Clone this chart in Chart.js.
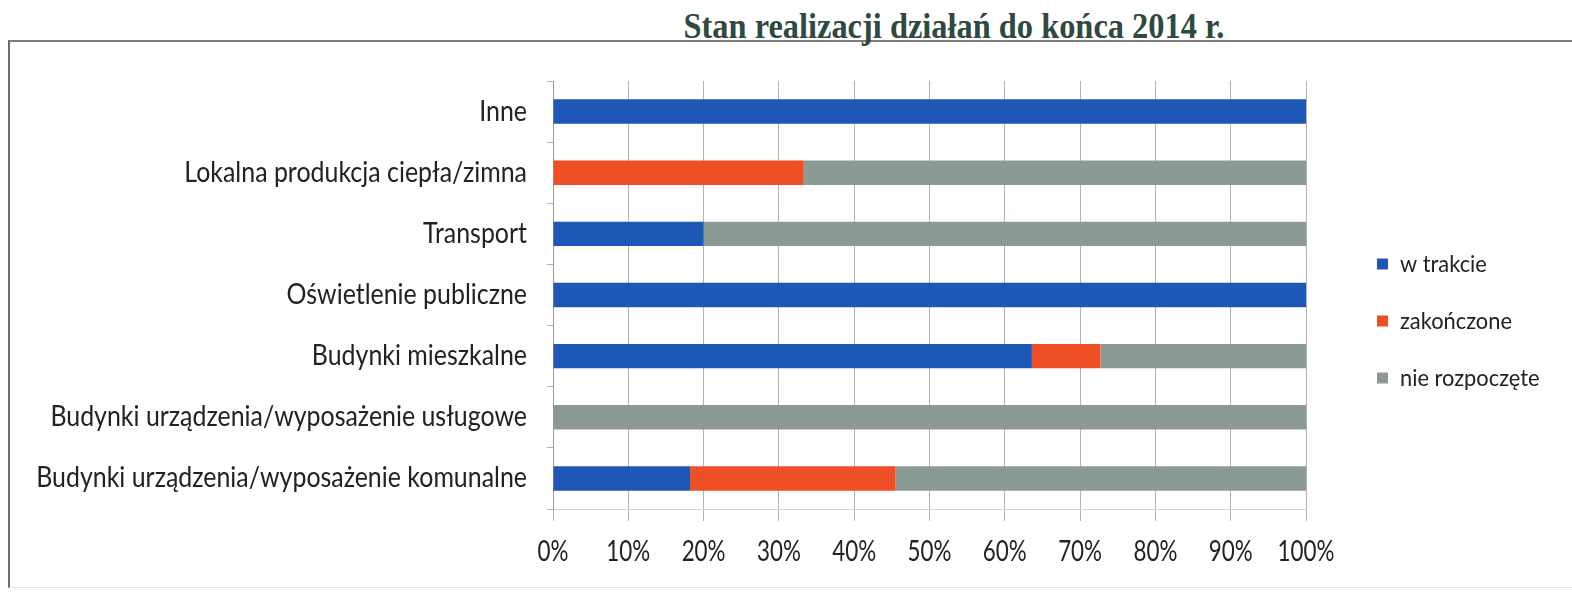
<!DOCTYPE html>
<html>
<head>
<meta charset="utf-8">
<script src="https://cdn.jsdelivr.net/npm/chart.js@4/dist/chart.umd.min.js"></script>
<style>
  html, body { margin: 0; padding: 0; background: #fff; }
  #wrap { position: relative; width: 1572px; height: 595px; overflow: hidden; }
  #frame { position: absolute; left: 8px; top: 40px; width: 1570px; height: 545px;
           border-top: 2px solid #7a7a7a; border-left: 2px solid #6e6e6e; border-bottom: 1px solid #e2e2e2; }
  #title { position: absolute; left: 954px; top: 8px; white-space: nowrap;
           font: bold 36px "Liberation Serif", "DejaVu Serif", serif; line-height: 36px;
           color: #2e4a40; transform: translateX(-50%) scaleX(0.9); transform-origin: center; }
  canvas { position: absolute; left: 0; top: 0; }
</style>
</head>
<body>
<div id="wrap">
  <div id="frame"></div>
  <div id="title">Stan realizacji działań do końca 2014 r.</div>
  <canvas id="chart" width="1572" height="595"></canvas>
</div>
<script>
// dane wykresu
const categories = [
  "Inne",
  "Lokalna produkcja ciepła/zimna",
  "Transport",
  "Oświetlenie publiczne",
  "Budynki mieszkalne",
  "Budynki urządzenia/wyposażenie usługowe",
  "Budynki urządzenia/wyposażenie komunalne"
];
const seriesNames = ["w trakcie", "zakończone", "nie rozpoczęte"];
const wTrakcie      = [100, 0,    20, 100, 63.6, 0,   18.2];
const zakonczone    = [0,   33.3, 0,  0,   9.1,  0,   27.3];
const nieRozpoczete = [0,   66.7, 80, 0,   27.3, 100, 54.5];
const xTicks = [0, 10, 20, 30, 40, 50, 60, 70, 80, 90, 100];

const colors = ["#1d58b6", "#ee4f25", "#8c9a95"];

// oryginał ma zwężone (ściśnięte) napisy – ściskamy tekst przez maxWidth
const squeeze = { right: 0.89, center: 0.8, left: 0.91 };
const narrowText = {
  id: "narrowText",
  beforeDraw(chart) {
    const ctx = chart.ctx;
    if (ctx.__narrow) return;
    const fill = ctx.fillText;
    ctx.fillText = function (t, x, y, mw) {
      const k = squeeze[this.textAlign] || 1;
      const w = this.measureText(t).width * k;
      return fill.call(this, t, x, y, mw !== undefined ? Math.min(mw, w) : w);
    };
    ctx.__narrow = true;
  }
};

// przesunięcie legendy (jak w oryginale – dalej od osi)
const legendNudge = {
  id: "legendNudge",
  afterLayout(chart) {
    const lg = chart.legend;
    if (!lg) return;
    lg.left += 38; lg.right += 38;
    lg.top -= 17; lg.bottom -= 17;
  }
};

const font = "Lato, 'Liberation Sans', sans-serif";

new Chart(document.getElementById("chart"), {
  type: "bar",
  data: {
    labels: categories,
    datasets: [wTrakcie, zakonczone, nieRozpoczete].map((d, i) => ({
      label: seriesNames[i],
      data: d,
      backgroundColor: colors[i],
      borderWidth: 0,
      barPercentage: 0.4,
      categoryPercentage: 1
    }))
  },
  options: {
    indexAxis: "y",
    responsive: false,
    animation: false,
    layout: { padding: { left: 35, top: 81, right: 66, bottom: 0 } },
    plugins: {
      legend: {
        position: "right",
        maxWidth: 200,
        labels: {
          font: { family: font, size: 24 },
          color: "#222",
          boxWidth: 11,
          boxHeight: 11,
          padding: 33
        }
      },
      tooltip: { enabled: false }
    },
    scales: {
      x: {
        stacked: true,
        min: 0,
        max: 100,
        afterBuildTicks: (s) => { s.ticks = xTicks.map(v => ({ value: v })); },
        afterFit: (s) => { s.height = 86; },
        ticks: {
          font: { family: font, size: 28 },
          color: "#222",
          padding: 14,
          maxRotation: 0,
          minRotation: 0,
          autoSkip: false,
          callback: (v) => v + "%"
        },
        grid: { color: "#b3b3b3", lineWidth: 1, tickLength: 12 },
        border: { display: true, color: "#d6d6d6" }
      },
      y: {
        stacked: true,
        afterFit: (s) => { s.width = 518; },
        ticks: {
          font: { family: font, size: 28 },
          color: "#222",
          padding: 20
        },
        grid: { drawOnChartArea: false, offset: true, tickLength: 6, color: "#b0b0b0" },
        border: { display: true, color: "#9a9a9a" }
      }
    }
  },
  plugins: [narrowText, legendNudge]
});
</script>
</body>
</html>
